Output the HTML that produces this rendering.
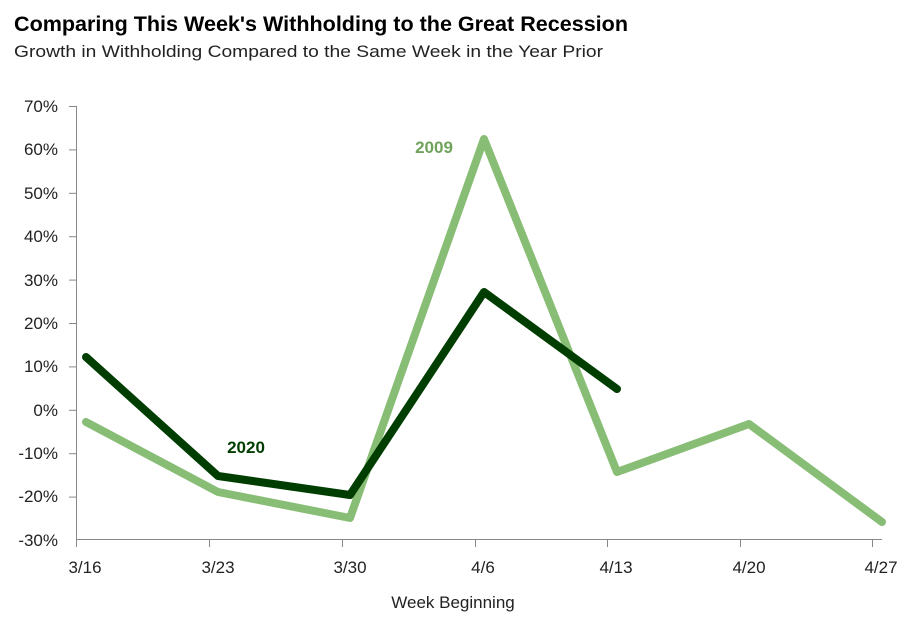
<!DOCTYPE html>
<html><head><meta charset="utf-8"><style>
body{margin:0;background:#fff;}
svg{display:block;font-family:"Liberation Sans",sans-serif;}
</style></head><body>
<svg width="916" height="630" viewBox="0 0 916 630">
<text x="14" y="31" font-size="21" font-weight="bold" fill="#000" textLength="614" lengthAdjust="spacingAndGlyphs">Comparing This Week's Withholding to the Great Recession</text>
<text x="14" y="57" font-size="17" fill="#222" textLength="589" lengthAdjust="spacingAndGlyphs">Growth in Withholding Compared to the Same Week in the Year Prior</text>
<g stroke="#888" stroke-width="1">
<line x1="76.5" y1="106" x2="76.5" y2="540"/>
<line x1="76" y1="539.5" x2="882" y2="539.5"/>
<line x1="69" y1="106.5" x2="76" y2="106.5"/><line x1="69" y1="149.9" x2="76" y2="149.9"/>
<line x1="69" y1="193.3" x2="76" y2="193.3"/><line x1="69" y1="236.7" x2="76" y2="236.7"/>
<line x1="69" y1="280.1" x2="76" y2="280.1"/><line x1="69" y1="323.5" x2="76" y2="323.5"/>
<line x1="69" y1="366.9" x2="76" y2="366.9"/><line x1="69" y1="410.3" x2="76" y2="410.3"/>
<line x1="69" y1="453.7" x2="76" y2="453.7"/><line x1="69" y1="497.1" x2="76" y2="497.1"/>
<line x1="76.5" y1="540" x2="76.5" y2="547"/><line x1="209.5" y1="540" x2="209.5" y2="547"/>
<line x1="342.5" y1="540" x2="342.5" y2="547"/><line x1="475.5" y1="540" x2="475.5" y2="547"/>
<line x1="607.5" y1="540" x2="607.5" y2="547"/><line x1="740.5" y1="540" x2="740.5" y2="547"/>
<line x1="872.5" y1="540" x2="872.5" y2="547"/>
</g>
<g font-size="17" fill="#222" text-anchor="end">
<text x="58" y="112">70%</text><text x="58" y="155">60%</text><text x="58" y="199">50%</text>
<text x="58" y="242">40%</text><text x="58" y="286">30%</text><text x="58" y="329">20%</text>
<text x="58" y="372">10%</text><text x="58" y="416">0%</text><text x="58" y="459">-10%</text>
<text x="58" y="502">-20%</text><text x="58" y="546">-30%</text>
</g>
<g font-size="17" fill="#222" text-anchor="middle">
<text x="85" y="573">3/16</text><text x="218" y="573">3/23</text><text x="350" y="573">3/30</text>
<text x="483" y="573">4/6</text><text x="616" y="573">4/13</text><text x="749" y="573">4/20</text>
<text x="881" y="573">4/27</text>
<text x="453" y="608">Week Beginning</text>
</g>
<polyline fill="none" stroke="#88bd75" stroke-width="8" stroke-linejoin="round" stroke-linecap="round"
points="86,422 218,492 350,518 484,139 617,472 749,424 882,522"/>
<polyline fill="none" stroke="#003d00" stroke-width="8" stroke-linejoin="round" stroke-linecap="round"
points="86,357 218,476 350,495 484,292 617,389"/>
<text x="434" y="153" font-size="17" font-weight="bold" fill="#6fa35b" text-anchor="middle">2009</text>
<text x="246" y="453" font-size="17" font-weight="bold" fill="#003d00" text-anchor="middle">2020</text>
</svg>
</body></html>
